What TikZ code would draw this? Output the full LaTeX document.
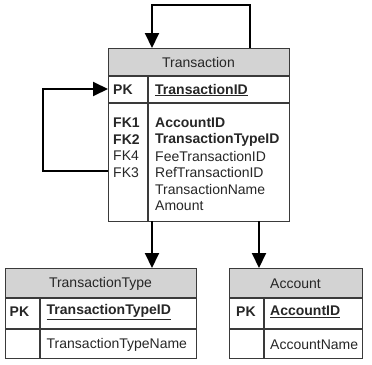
\documentclass[tikz,border=0pt]{standalone}
\usepackage{fontspec}
\setmainfont{Liberation Sans}
\usetikzlibrary{arrows.meta,calc}
\definecolor{hdr}{HTML}{D3D3D3}
\definecolor{bord}{HTML}{3A3A3A}
\tikzset{
  tbl/.style={draw=bord, line width=1.2pt, inner sep=0pt, anchor=north west},
  sep/.style={draw=bord, line width=1.2pt},
  txt/.style={inner sep=0pt, anchor=west, font=\fontsize{14}{16}\selectfont, text=black!85},
  ttl/.style={inner sep=0pt, font=\fontsize{14}{16}\selectfont, text=black!85},
  conn/.style={line width=2pt, black, -{Triangle[length=15pt,width=14pt]}},
}
\begin{document}
\begin{tikzpicture}[x=1pt,y=-1pt]
\useasboundingbox (0,0) rectangle (372,364);
% Transaction table
\fill[hdr] (108,48) rectangle (289,76);
\node[tbl, minimum width=181pt, minimum height=173pt] (T) at (108,48) {};
\draw[sep] (108,76) -- (289,76);
\draw[sep] (108,103) -- (289,103);
\draw[sep] (148,76) -- (148,221);
\node[ttl] (Tt) at (198.5,62) {Transaction};
\node[txt] (Tk0) at (113,90) {\textbf{PK}};
\node[txt] (Tf0) at (155,90) {\textbf{\underline{TransactionID}}};
\node[txt] (Tk1) at (113,122.5) {\textbf{FK1}};
\node[txt] (Tf1) at (155,122.5) {\textbf{AccountID}};
\node[txt] (Tk2) at (113,139.5) {\textbf{FK2}};
\node[txt] (Tf2) at (155,139.5) {\textbf{TransactionTypeID}};
\node[txt] (Tk3) at (113,156) {FK4};
\node[txt] (Tf3) at (155,156) {FeeTransactionID};
\node[txt] (Tk4) at (113,172.5) {FK3};
\node[txt] (Tf4) at (155,172.5) {RefTransactionID};
\node[txt] (Tf5) at (155,189.5) {TransactionName};
\node[txt] (Tf6) at (155,206) {Amount};
% TransactionType table
\fill[hdr] (5,268) rectangle (196,298);
\node[tbl, minimum width=191pt, minimum height=90pt] (TT) at (5,268) {};
\draw[sep] (5,298) -- (196,298);
\draw[sep] (5,329) -- (196,329);
\draw[sep] (40,298) -- (40,358);
\node[ttl] (TTt) at (100.5,284) {TransactionType};
\node[txt] (TTk0) at (9.5,312) {\textbf{PK}};
\node[txt] (TTf0) at (46.5,312) {\textbf{\underline{TransactionTypeID}}};
\node[txt] (TTf1) at (46.5,345) {TransactionTypeName};
% Account table
\fill[hdr] (229,268) rectangle (362,298);
\node[tbl, minimum width=133pt, minimum height=90pt] (A) at (229,268) {};
\draw[sep] (229,298) -- (362,298);
\draw[sep] (229,329) -- (362,329);
\draw[sep] (264,298) -- (264,358);
\node[ttl] (At) at (295.5,284) {Account};
\node[txt] (Ak0) at (236,312) {\textbf{PK}};
\node[txt] (Af0) at (270,312) {\textbf{\underline{AccountID}}};
\node[txt] (Af1) at (270,345) {AccountName};
% connectors
\coordinate (s1) at (250,48);
\coordinate (e1) at (152,48);
\draw[conn] (s1) -- (250,5) -| (e1);
\coordinate (s2) at (108,171);
\coordinate (e2) at (108,89);
\draw[conn] (s2) -- (43,171) |- (e2);
\draw[conn] (152,221) -- (152,268);
\draw[conn] (259,221) -- (259,268);
\end{tikzpicture}
\end{document}
